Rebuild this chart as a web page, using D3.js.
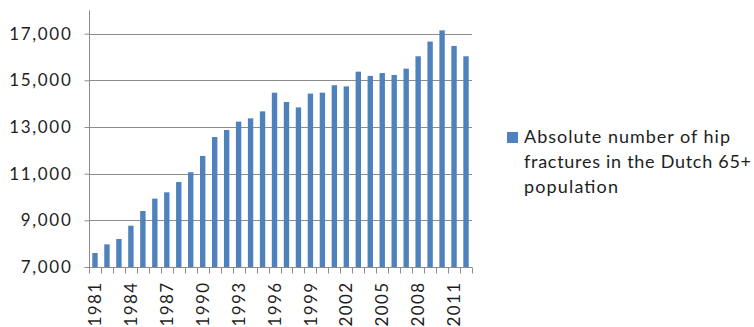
<!DOCTYPE html>
<html>
<head>
<meta charset="utf-8">
<script src="https://cdn.jsdelivr.net/npm/d3@7"></script>
<style>
  html, body { margin: 0; padding: 0; background: #fff; }
  svg { display: block; }
  text { font-family: Lato, "Open Sans", sans-serif; fill: #1e1e1e; }
</style>
</head>
<body>
<svg id="chart" width="754" height="327"></svg>
<script>
// Hip fractures in the Dutch 65+ population, by year
const years = d3.range(1981, 2013).map(String);
const fractures = [
  7600, 7970, 8200, 8770, 9400, 9930, 10200, 10640, 11060, 11760,
  12570, 12870, 13230, 13370, 13670, 14470, 14070, 13840, 14430, 14470,
  14790, 14740, 15370, 15190, 15310, 15230, 15500, 16030, 16660, 17140,
  16470, 16030
];
const yTicks = [7000, 9000, 11000, 13000, 15000, 17000];
const yDomain = [7000, 18000];
const shownYears = ["1981", "1984", "1987", "1990", "1993", "1996", "1999", "2002", "2005", "2008", "2011"];
const legendLines = ["Absolute number of hip", "fractures in the Dutch 65+", "population"];

const svg = d3.select("#chart");
const plot = { left: 89, right: 472, top: 10.3, bottom: 267 };
const gridColor = "#8c8c8c";
const barColor = "#4f81bd";
// set widths of the wrapped legend lines
const legendLineWidths = [206, 227, 94];

const x = d3.scaleBand().domain(years).range([plot.left, plot.right]);
const y = d3.scaleLinear().domain(yDomain).range([plot.bottom, plot.top]);

// horizontal gridlines
svg.append("g")
  .selectAll("line")
  .data(yTicks.filter(t => t > yDomain[0]))
  .join("line")
  .attr("x1", plot.left).attr("x2", plot.right)
  .attr("y1", d => Math.round(y(d)) + 0.5).attr("y2", d => Math.round(y(d)) + 0.5)
  .attr("stroke", gridColor).attr("stroke-width", 1);

// bars
const barW = x.bandwidth() * 0.45;
svg.append("g")
  .selectAll("rect")
  .data(years)
  .join("rect")
  .attr("x", (d) => x(d) + (x.bandwidth() - barW) / 2)
  .attr("width", barW)
  .attr("y", (d, i) => y(fractures[i]))
  .attr("height", (d, i) => y(yDomain[0]) - y(fractures[i]))
  .attr("fill", barColor);

// y axis
const yAxis = svg.append("g")
  .attr("transform", `translate(${plot.left + 0.5},0)`)
  .call(d3.axisLeft(y).tickValues(yTicks).tickSize(5).tickPadding(12)
    .tickFormat(d3.format(",")));
yAxis.select(".domain").attr("stroke", gridColor).attr("d", `M0,${plot.top}V${plot.bottom}`);
yAxis.selectAll(".tick line").attr("stroke", gridColor);
yAxis.selectAll(".tick text")
  .style("font-size", "17px")
  .style("letter-spacing", "1.7px")
  .style("font-family", "Lato, sans-serif")
  .attr("fill", "#1e1e1e");

// x axis: ticks on category boundaries
const xAxisG = svg.append("g").attr("transform", `translate(0,${Math.round(plot.bottom) + 0.5})`);
xAxisG.append("line")
  .attr("x1", plot.left).attr("x2", plot.right)
  .attr("stroke", gridColor);
const boundaries = years.map(d => x(d)).concat([plot.right]);
xAxisG.selectAll("line.tk")
  .data(boundaries)
  .join("line")
  .attr("class", "tk")
  .attr("x1", d => Math.round(d) + 0.5).attr("x2", d => Math.round(d) + 0.5)
  .attr("y1", 0).attr("y2", 6)
  .attr("stroke", gridColor);
xAxisG.selectAll("text")
  .data(shownYears)
  .join("text")
  .attr("transform", d => `translate(${x(d) + x.bandwidth() / 2},14) rotate(-90)`)
  .attr("dy", "0.36em")
  .attr("text-anchor", "end")
  .style("font-size", "17px")
  .style("letter-spacing", "1.4px")
  .text(d => d);

// legend
const legend = svg.append("g");
legend.append("rect")
  .attr("x", 507).attr("y", 132).attr("width", 11).attr("height", 11)
  .attr("fill", barColor);
legend.selectAll("text")
  .data(legendLines)
  .join("text")
  .attr("x", 524)
  .attr("y", (d, i) => 143 + i * 25)
  .attr("textLength", (d, i) => legendLineWidths[i])
  .attr("lengthAdjust", "spacing")
  .style("font-size", "18px")
  .text(d => d);
</script>
</body>
</html>
